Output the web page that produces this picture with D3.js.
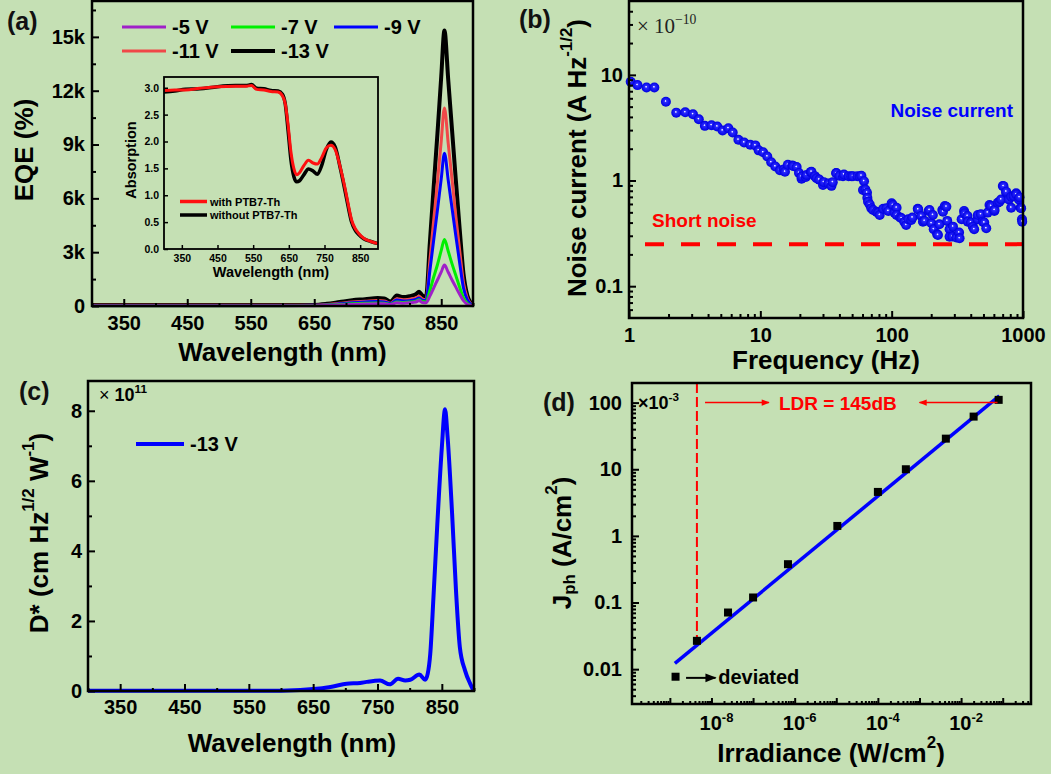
<!DOCTYPE html>
<html><head><meta charset="utf-8">
<script src="https://cdn.jsdelivr.net/npm/d3@7"></script>
<style>body{margin:0;background:#c5e0b4}svg{display:block}</style>
</head><body>
<script>
// ---------------- DATA ----------------
// (a) EQE vs wavelength
const wavelengthA = [300,400,500,600,650,670,690,710,730,750,760,770,780,790,800,810,815,820,826,832,838,844,850,855,861,867,873,879,885,891,896,900];
const eqeM13 = [50,50,50,50,60,120,220,320,380,450,420,250,580,500,550,650,800,600,500,3500,6600,9600,12800,15350,12600,9800,7000,4300,1800,600,200,100];
const eqeM11 = [40,40,40,40,45,80,150,220,260,300,280,160,400,350,380,450,550,400,350,2500,4750,6900,9200,11040,9050,7050,5000,3100,1300,450,150,80];
const eqeM9  = [30,30,30,30,35,60,120,180,220,250,230,130,330,280,300,360,450,320,300,1950,3650,5350,7100,8520,7000,5450,3900,2400,1000,350,120,60];
const eqeM7  = [20,20,20,20,25,40,80,120,150,170,160,100,220,200,220,270,350,250,220,850,1600,2300,3100,3700,3050,2350,1700,1050,450,150,50,30];
const eqeM5  = [15,15,15,15,20,30,60,90,110,130,120,80,180,160,180,220,300,200,180,550,1000,1450,1900,2280,1880,1450,1050,650,300,100,40,20];
const seriesNamesA = ["-5 V","-7 V","-9 V","-11 V","-13 V"];
const seriesColorsA = ["#a020c8","#00f000","#0000ff","#f04848","#000000"];
const eqeTicks = [0,3000,6000,9000,12000,15000];
const wlTicks = [350,450,550,650,750,850];

// (a) inset absorption
const wavelengthIn = [300,330,360,400,450,500,530,545,560,580,600,620,632,640,648,656,664,672,680,692,705,718,730,742,755,768,780,795,807,816,826,836,846,860,880,900];
const absWith    = [2.95,2.96,2.96,2.99,3.02,3.03,3.03,3.04,2.97,2.96,2.93,2.92,2.85,2.7,2.3,1.8,1.5,1.38,1.42,1.55,1.65,1.6,1.58,1.7,1.88,1.93,1.85,1.5,1.15,0.85,0.54,0.38,0.29,0.2,0.14,0.1];
const absWithout = [2.92,2.94,2.97,2.98,3.02,3.04,3.04,3.06,2.99,2.98,2.95,2.94,2.88,2.7,2.2,1.65,1.35,1.25,1.27,1.38,1.49,1.45,1.39,1.55,1.85,1.99,1.9,1.48,1.1,0.8,0.5,0.35,0.27,0.19,0.14,0.1];
const absTicks = [0,0.5,1,1.5,2,2.5,3];

// (b) noise current vs frequency (x 1e-10 A Hz^-1/2)
const freqB = [1.03,1.16,1.36,1.56,1.91,2.29,2.68,3.07,3.40,3.78,4.25,4.70,5.16,5.71,6.16,6.81,7.53,8.38,9.16,9.71,10.5,11.3,12.1,13.0,14.1,15.1,16.2,17.5,18.9,19.7,20.6,22.2,24.2,26.0,28.1,30.4,33.0,35.6,37.8,40.1,43.3,47.0,50.7,54.8,58.8,61.6,63.1,65.3,68.1,72.2,78.9,86.2,94.3,100,105,109,116,125,134,144,158,168,178,191,201,209,222,231,243,254,265,276,290,311,326,341,356,378,401,425,451,478,507,538,571,605,643,681,710,745,780,813,848,889,931,959,982,
  15.4,17.8,20.6,22.5,24.5,26.8,30.0,34.8,37.9,42.6,49.3,57.1,60.5,64.9,66.1,70,76.5,81.1,91.2,102,109,119,129,141,159,173,194,206,225,246,261,276,293,329,359,380,415,453,495,525,556,607,662,702,745,813,887,940,968,986];
const noiseB = [8.6,8.0,7.6,7.6,5.57,4.39,4.42,4.24,3.80,3.29,3.34,3.24,2.97,3.13,2.85,2.43,2.29,2.18,2.15,1.93,1.85,1.69,1.49,1.36,1.25,1.27,1.41,1.39,1.34,1.18,1.04,1.08,1.20,1.10,1.02,0.965,0.937,0.965,1.18,1.11,1.14,1.10,1.10,1.10,1.11,0.986,0.823,0.687,0.594,0.526,0.497,0.541,0.515,0.608,0.497,0.553,0.446,0.406,0.43,0.446,0.541,0.462,0.415,0.515,0.394,0.346,0.31,0.385,0.526,0.574,0.415,0.346,0.295,0.289,0.322,0.43,0.515,0.462,0.40,0.346,0.43,0.479,0.40,0.497,0.574,0.515,0.616,0.662,0.885,0.766,0.662,0.553,0.713,0.738,0.662,0.553,0.43,
  1.21,1.37,1.09,1.13,1.21,1.05,0.906,0.89,1.17,1.10,1.10,1.09,0.813,0.767,0.63,0.546,0.507,0.472,0.546,0.586,0.472,0.439,0.379,0.423,0.533,0.408,0.526,0.472,0.305,0.507,0.565,0.294,0.366,0.284,0.489,0.408,0.366,0.472,0.408,0.353,0.586,0.526,0.63,0.887,0.784,0.703,0.756,0.694,0.546,0.408];
const shotNoise = 0.25;
const freqTicks = [1,10,100,1000];
const noiseTicks = [0.1,1,10];

// (c) specific detectivity (x 1e11)
const wavelengthC = [300,400,500,600,660,681,702,723,733,754,769,782,793,801,815,824,828,832,837,843,850,855,859,866,872,878,886,894,899];
const dStar = [0.01,0.01,0.01,0.01,0.07,0.13,0.21,0.23,0.26,0.3,0.19,0.35,0.3,0.32,0.47,0.32,0.49,1.06,2.68,4.77,6.95,8.04,7.24,5.05,2.87,1.25,0.59,0.21,0.02];
const dStarTicks = [0,2,4,6,8];

// (d) photocurrent density vs irradiance (x 1e-3 A/cm2)
const irradiance = [1.37e-9,4.47e-9,2.5e-8,1e-7,6.9e-7,1.06e-5,1e-4,4.7e-4,4.3e-3,0.02,0.08];
const jph = [0.0077,0.0266,0.0708,0.119,0.376,1.41,4.57,10,28.8,61.7,110];
const fitIrr = [1.32e-9,0.083];
const fitJph = [0.0122,126];
const irrLabelExp = [-8,-6,-4,-2];
const jphTicks = [0.01,0.1,1,10,100];

// ---------------- DRAWING ----------------
const W=1051,H=774;
const FONT='"Liberation Sans", Arial, Helvetica, sans-serif';
const svg=d3.select('body').append('svg').attr('width',W).attr('height',H);
svg.append('rect').attr('width',W).attr('height',H).attr('fill','#c5e0b4');
const defs=svg.append('defs');
const grad=defs.append('radialGradient').attr('id','ball').attr('cx','50%').attr('cy','50%').attr('r','50%').attr('fx','45%').attr('fy','42%');
[['0%','#ffffff'],['9%','#d8d8ff'],['24%','#2a2aff'],['100%','#0000e0']].forEach(s=>grad.append('stop').attr('offset',s[0]).attr('stop-color',s[1]));
function marker(id,color,size){
  defs.append('marker').attr('id',id).attr('viewBox','0 0 10 10').attr('refX',9).attr('refY',5)
    .attr('markerWidth',size).attr('markerHeight',size*0.8).attr('markerUnits','userSpaceOnUse').attr('orient','auto')
    .append('path').attr('d','M0,1 L10,5 L0,9 Z').attr('fill',color);
}
marker('arrRed','#ff0000',10);
marker('arrBlk','#000000',14);

function rich(g,x,y,parts,fs,opts={}){
  const t=g.append('text').attr('x',x).attr('y',y).attr('font-size',fs).attr('font-family',opts.family||FONT)
    .attr('font-weight',opts.weight||'bold').attr('fill',opts.fill||'#000').attr('text-anchor',opts.anchor||'start');
  if(opts.central) t.attr('dominant-baseline','central');
  if(opts.rotate) t.attr('transform',`rotate(${opts.rotate},${x},${y})`);
  let shift=0;
  parts.forEach(p=>{
    const s=typeof p==='string'?{t:p}:p;
    let target=0,size=fs;
    if(s.sup){target=-fs*0.42;size=fs*0.65;}
    if(s.sub){target=fs*0.28;size=fs*0.65;}
    const ts=t.append('tspan').text(s.t).attr('dy',target-shift).attr('font-size',size);
    if(s.weight) ts.attr('font-weight',s.weight);
    if(s.family) ts.attr('font-family',s.family);
    shift=target;
  });
  return t;
}
function axis(g,orient,scale,pos,majors,minors,o={}){
  const mk=orient==='bottom'?d3.axisBottom:d3.axisLeft;
  const tr=orient==='bottom'?`translate(0,${pos})`:`translate(${pos},0)`;
  const a=mk(scale).tickValues(majors).tickSizeInner(-(o.major||7)).tickSizeOuter(0).tickPadding(o.pad||8);
  if(o.fmt!==undefined) a.tickFormat(o.fmt);
  const gm=g.append('g').attr('transform',tr).call(a);
  gm.select('.domain').remove();
  gm.selectAll('.tick line').attr('stroke','#000').attr('stroke-width',o.tw||2);
  gm.selectAll('.tick text').attr('font-family',FONT).attr('font-weight','bold').attr('font-size',o.fs||20).attr('fill','#000');
  if(minors&&minors.length){
    const b=mk(scale).tickValues(minors).tickSizeInner(-(o.minor||4)).tickSizeOuter(0).tickFormat('');
    const gi=g.append('g').attr('transform',tr).call(b);
    gi.select('.domain').remove();
    gi.selectAll('.tick line').attr('stroke','#000').attr('stroke-width',o.tw||2);
  }
}
function frame(g,x,y,sw){
  g.append('rect').attr('x',x.range()[0]).attr('y',Math.min(...y.range())).attr('width',x.range()[1]-x.range()[0])
   .attr('height',Math.abs(y.range()[0]-y.range()[1])).attr('fill','none').attr('stroke','#000').attr('stroke-width',sw||2.5);
}
function logMinors(lo,hi){
  const out=[];
  for(let e=Math.floor(Math.log10(lo));e<=Math.ceil(Math.log10(hi));e++)
    for(let m=2;m<=9;m++){const v=m*Math.pow(10,e); if(v>lo&&v<hi) out.push(v);}
  return out;
}
function panelLabel(g,x,y,t){
  g.append('text').attr('x',x).attr('y',y).attr('font-family',FONT).attr('font-size',25).attr('font-weight','bold').attr('fill','#111').text(t);
}
const g=svg.append('g');

// ---------- Panel (a) ----------
const xA=d3.scaleLinear([300,900],[92,473]);
const yA=d3.scaleLinear([0,17000],[306,1]);
const eqeSeries=[eqeM5,eqeM7,eqeM9,eqeM11,eqeM13];
const lineA=d3.line().x((d,i)=>xA(wavelengthA[i])).y(d=>yA(d)).curve(d3.curveMonotoneX);
[4,3,2,1,0].forEach(k=>{
  g.append('path').attr('d',lineA(eqeSeries[k])).attr('fill','none').attr('stroke',seriesColorsA[k])
   .attr('stroke-width',k===4?4:3).attr('stroke-linejoin','round');
});
axis(g,'bottom',xA,306,wlTicks,[300,400,500,600,700,800,900],{pad:10,fmt:d3.format('d'),minor:3});
axis(g,'left',yA,92,eqeTicks,[1500,4500,7500,10500,13500,16500],{pad:7,fmt:d=>d===0?'0':(d/1000)+'k'});
frame(g,xA,yA);
// legend (a)
const legA=[{k:0,col:0,row:0},{k:1,col:1,row:0},{k:2,col:2,row:0},{k:3,col:0,row:1},{k:4,col:1,row:1}];
const legColX=[122,231,334], legRowY=[27,51];
legA.forEach(l=>{
  const x0=legColX[l.col], y0=legRowY[l.row];
  g.append('line').attr('x1',x0).attr('x2',x0+44).attr('y1',y0).attr('y2',y0).attr('stroke',seriesColorsA[l.k]).attr('stroke-width',l.k===4?4:3);
  g.append('text').attr('x',x0+50).attr('y',y0).attr('dominant-baseline','central').attr('font-family',FONT)
   .attr('font-weight','bold').attr('font-size',20).text(seriesNamesA[l.k]);
});
rich(g,282.5,352,['Wavelength (nm)'],26,{anchor:'middle',central:true});
rich(g,24,150,['EQE (%)'],26,{anchor:'middle',central:true,rotate:-90});
panelLabel(g,7,30,'(a)');

// inset
const xI=d3.scaleLinear([300,900],[164,378]);
const yI=d3.scaleLinear([0,3.2],[249,77]);
const lineI=d3.line().x((d,i)=>xI(wavelengthIn[i])).y(d=>yI(d)).curve(d3.curveMonotoneX);
g.append('path').attr('d',lineI(absWithout)).attr('fill','none').attr('stroke','#000').attr('stroke-width',3.5);
g.append('path').attr('d',lineI(absWith)).attr('fill','none').attr('stroke','#ff1010').attr('stroke-width',3);
axis(g,'bottom',xI,249,wlTicks,[],{pad:6,fmt:d3.format('d'),fs:10.5,major:4,tw:1.5});
axis(g,'left',yI,164,absTicks,[],{pad:5,fmt:d3.format('.1f'),fs:10.5,major:4,tw:1.5});
frame(g,xI,yI,1.8);
g.append('line').attr('x1',180).attr('x2',207).attr('y1',201.5).attr('y2',201.5).attr('stroke','#ff1010').attr('stroke-width',3.5);
g.append('line').attr('x1',180).attr('x2',207).attr('y1',215).attr('y2',215).attr('stroke','#000').attr('stroke-width',3.5);
rich(g,210,201.5,['with PTB7-Th'],11,{central:true});
rich(g,210,215,['without PTB7-Th'],11,{central:true});
rich(g,271,271.5,['Wavelength (nm)'],14.5,{anchor:'middle',central:true});
rich(g,131,160,['Absorption'],14.5,{anchor:'middle',central:true,rotate:-90});

// ---------- Panel (b) ----------
const xB=d3.scaleLog([1,1000],[629,1023]);
const yB=d3.scaleLog([0.05,50],[318,1]);
g.append('line').attr('x1',645).attr('x2',1023).attr('y1',yB(shotNoise)).attr('y2',yB(shotNoise))
 .attr('stroke','#ff0000').attr('stroke-width',4).attr('stroke-dasharray','19,17');
g.append('g').selectAll('circle').data(freqB.map((f,i)=>[f,noiseB[i]]).sort((a,b)=>a[0]-b[0])).join('circle')
 .attr('cx',d=>xB(d[0])).attr('cy',d=>yB(d[1])).attr('r',5).attr('fill','url(#ball)');
axis(g,'bottom',xB,318,freqTicks,logMinors(1,1000),{pad:10,fmt:d3.format('d')});
axis(g,'left',yB,629,noiseTicks,logMinors(0.05,50),{pad:6,fmt:d=>d<1?'0.1':d3.format('d')(d)});
frame(g,xB,yB);
rich(g,637,33,['× 10',{t:'−10',sup:true}],21,{family:'"Liberation Serif","Times New Roman",serif',weight:'normal',fill:'#222'});
rich(g,1013,110,['Noise current'],19,{anchor:'end',central:true,fill:'#0000ff'});
rich(g,652,220,['Short noise'],19,{central:true,fill:'#ff0000'});
rich(g,826,360,['Frequency (Hz)'],26,{anchor:'middle',central:true});
rich(g,577,158,['Noise current (A Hz',{t:'-1/2',sup:true},')'],26,{anchor:'middle',central:true,rotate:-90});
panelLabel(g,519,28,'(b)');

// ---------- Panel (c) ----------
const xC=d3.scaleLinear([300,900],[88,474]);
const yC=d3.scaleLinear([0,8.85],[691,381]);
const lineC=d3.line().x((d,i)=>xC(wavelengthC[i])).y(d=>yC(d)).curve(d3.curveMonotoneX);
g.append('path').attr('d',lineC(dStar)).attr('fill','none').attr('stroke','#0000ff').attr('stroke-width',4).attr('stroke-linejoin','round');
axis(g,'bottom',xC,691,wlTicks,[300,400,500,600,700,800,900],{pad:9,fmt:d3.format('d'),minor:3});
axis(g,'left',yC,88,dStarTicks,[1,3,5,7],{pad:6,fmt:d3.format('d')});
frame(g,xC,yC);
g.append('line').attr('x1',136).attr('x2',184).attr('y1',444).attr('y2',444).attr('stroke','#0000ff').attr('stroke-width',4);
rich(g,190,444,['-13 V'],20,{central:true});
rich(g,99,401,[{t:'× ',weight:'normal'},'10',{t:'11',sup:true}],18,{});
rich(g,292,743,['Wavelength (nm)'],26,{anchor:'middle',central:true});
rich(g,39,533,['D* (cm Hz',{t:'1/2',sup:true},' W',{t:'-1',sup:true},')'],26,{anchor:'middle',central:true,rotate:-90});
panelLabel(g,19,400,'(c)');

// ---------- Panel (d) ----------
const xD=d3.scaleLog([Math.pow(10,-9.91),Math.pow(10,-0.32)],[632,1031]);
const yD=d3.scaleLog([0.003,197],[704,383]);
g.append('line').attr('x1',xD(irradiance[1])).attr('x2',xD(irradiance[1])).attr('y1',383).attr('y2',yD(jph[1]))
 .attr('stroke','#ff0000').attr('stroke-width',2).attr('stroke-dasharray','10,4');
g.append('line').attr('x1',xD(fitIrr[0])).attr('y1',yD(fitJph[0])).attr('x2',xD(fitIrr[1])).attr('y2',yD(fitJph[1]))
 .attr('stroke','#0000ff').attr('stroke-width',3.5);
g.append('g').selectAll('rect').data(irradiance.map((x,i)=>[x,jph[i]])).join('rect')
 .attr('x',d=>xD(d[0])-4).attr('y',d=>yD(d[1])-4).attr('width',8).attr('height',8).attr('fill','#000');
const decD=d3.range(-9,0).map(e=>Math.pow(10,e));
axis(g,'bottom',xD,704,decD,logMinors(Math.pow(10,-9.91),Math.pow(10,-0.32)),{fmt:'',major:6,minor:3});
axis(g,'left',yD,632,jphTicks,logMinors(0.003,197),{pad:10,fmt:d=>d>=1?d3.format('d')(d):String(d)});
frame(g,xD,yD);
irrLabelExp.forEach(e=>{
  rich(g,xD(Math.pow(10,e))+5,730,['10',{t:String(e),sup:true}],20,{anchor:'middle'});
});
// LDR annotation (at J = 100)
g.append('line').attr('x1',xD(7e-9)).attr('x2',xD(2.4e-7)).attr('y1',yD(100)).attr('y2',yD(100))
 .attr('stroke','#ff0000').attr('stroke-width',1.5).attr('marker-end','url(#arrRed)');
g.append('line').attr('x1',xD(0.075)).attr('x2',xD(1.0e-3)).attr('y1',yD(100)).attr('y2',yD(100))
 .attr('stroke','#ff0000').attr('stroke-width',1.5).attr('marker-end','url(#arrRed)');
rich(g,xD(4.2e-7),yD(100),['LDR = 145dB'],19,{central:true,fill:'#ff0000'});
g.append('line').attr('x1',xD(2.45e-9)).attr('x2',xD(1.25e-8)).attr('y1',yD(0.0074)).attr('y2',yD(0.0074))
 .attr('stroke','#000').attr('stroke-width',2).attr('marker-end','url(#arrBlk)');
rich(g,xD(1.45e-8),yD(0.0077),['deviated'],20,{central:true});
rich(g,638,409,['×10',{t:'-3',sup:true}],18,{});
rich(g,831,753,['Irradiance (W/cm',{t:'2',sup:true},')'],26,{anchor:'middle',central:true});
rich(g,562,543,['J',{t:'ph',sub:true},' (A/cm',{t:'2',sup:true},')'],26,{anchor:'middle',central:true,rotate:-90});
panelLabel(g,543,411,'(d)');
</script>
</body></html>
